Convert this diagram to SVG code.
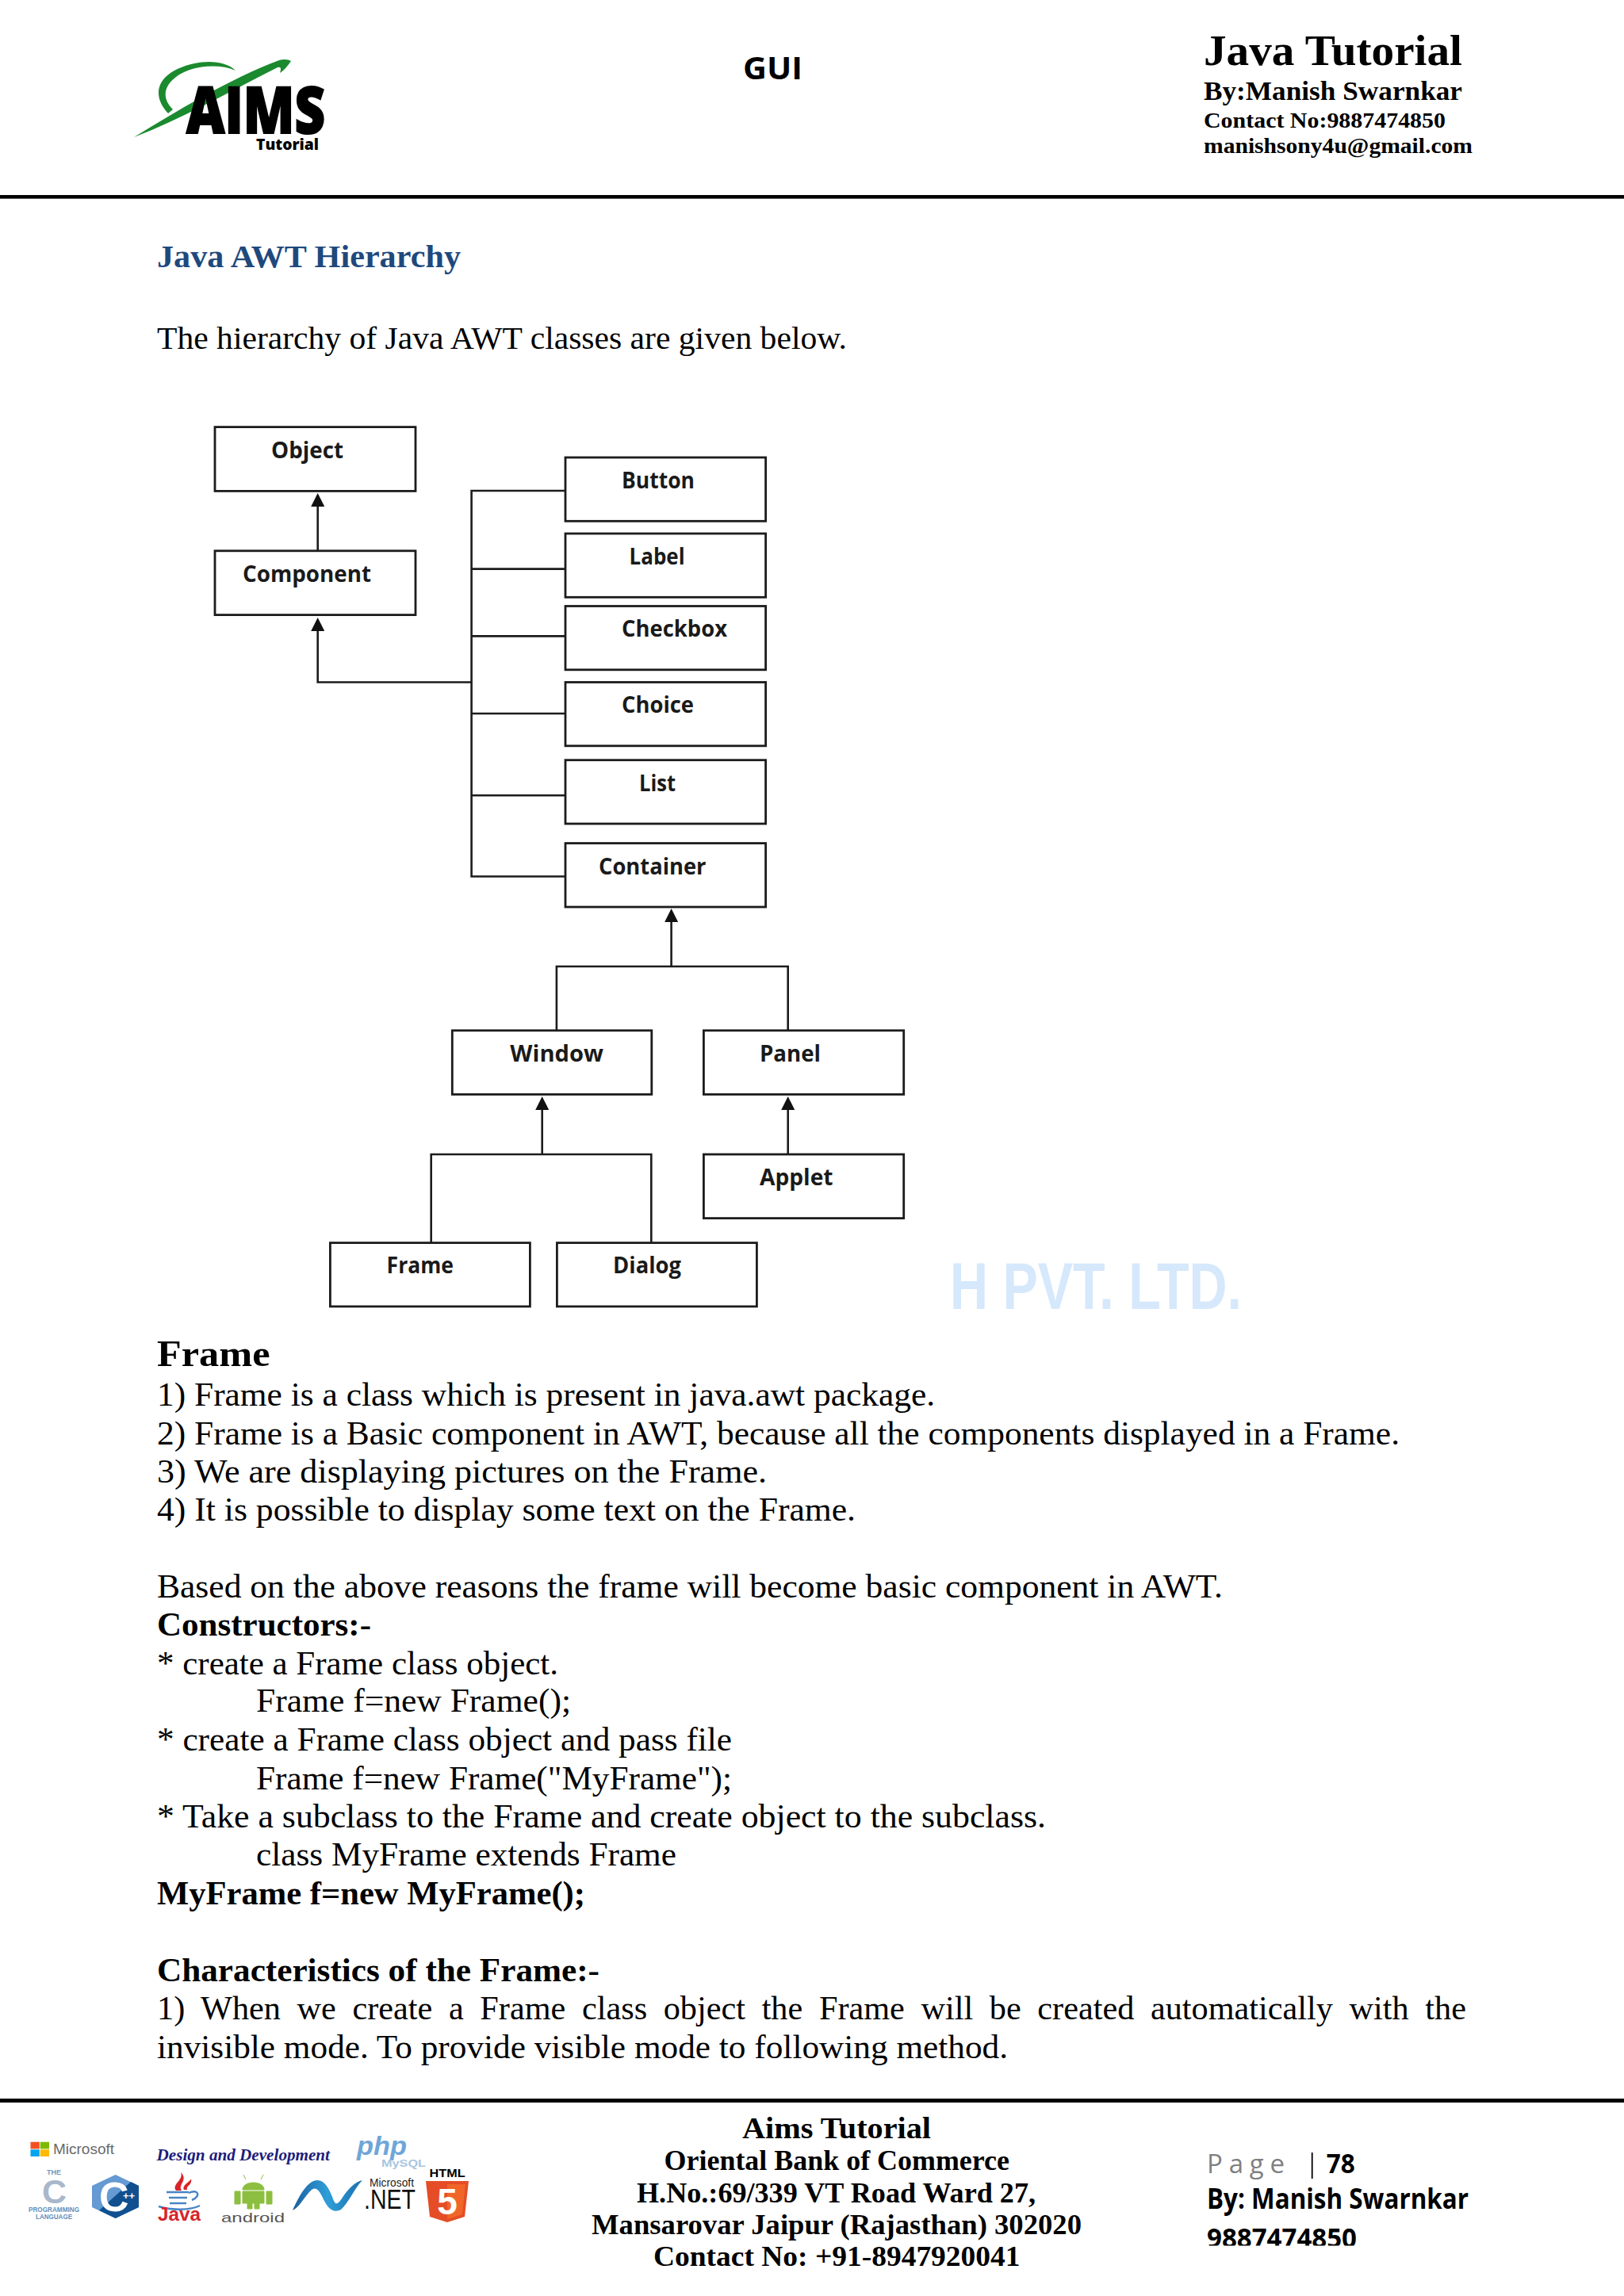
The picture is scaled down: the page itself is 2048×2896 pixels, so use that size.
<svg xmlns="http://www.w3.org/2000/svg" width="2048" height="2896" viewBox="0 0 2048 2896">
<style>
text{font-family:"Liberation Serif","DejaVu Serif",serif;fill:#000}
.b{font-weight:700}
.body{font-size:42px}
.sec{font-size:46px;font-weight:700}
.foot{font-size:36px;font-weight:700}
.hd{font-weight:700}
.os{font-family:"Open Sans","Liberation Sans",sans-serif}
.sans{font-family:"Liberation Sans",sans-serif}
.lbl{font-family:"Open Sans","Liberation Sans",sans-serif;font-weight:700;font-size:29px;fill:#1a1a1a}
.box{fill:#fff;stroke:#1c1c1c;stroke-width:2.8}
.cn{fill:none;stroke:#1c1c1c;stroke-width:2.6}
.ah{marker-end:url(#arrow)}
</style>
<defs>
<marker id="arrow" markerUnits="userSpaceOnUse" markerWidth="18" markerHeight="17" viewBox="0 0 18 17" refX="2" refY="8.5" orient="auto"><path d="M0,0L17,8.500L0,17z" fill="#111"/></marker>
<linearGradient id="net" x1="0" y1="0" x2="1" y2="0"><stop offset="0" stop-color="#1b5f9f"/><stop offset=".5" stop-color="#2f9ed8"/><stop offset="1" stop-color="#1a70b0"/></linearGradient>
<clipPath id="pclip"><rect x="1500" y="2790" width="300" height="42.5"/></clipPath>
</defs>
<rect width="2048" height="2896" fill="#fff"/>

<g id="header">
<g id="logo">
<path d="M169,173C230,135 300,95 352,76C358,74 364,75 367,77C363,83 358,89 353,92C355,86 354,84 350,85C290,115 230,150 169,173Z" fill="#1b8a2e"/>
<path d="M212,143C195,125 196,105 215,92C240,76 280,72 297,89C275,79 240,83 222,97C205,110 205,125 218,138Z" fill="#1b8a2e"/>
<text class="os" x="235" y="168" font-size="81" font-weight="800" stroke="#000" stroke-width="2" textLength="175" lengthAdjust="spacingAndGlyphs">AIMS</text>
<text class="os" x="323" y="189" font-size="20" font-weight="800" textLength="79" lengthAdjust="spacingAndGlyphs">Tutorial</text>
</g>
<text class="os b" x="937" y="100" font-size="40" textLength="75" lengthAdjust="spacingAndGlyphs">GUI</text>
<text class="hd" x="1518" y="82" font-size="55" textLength="326" lengthAdjust="spacingAndGlyphs">Java Tutorial</text>
<text class="hd" x="1518" y="126" font-size="33" textLength="326" lengthAdjust="spacingAndGlyphs">By:Manish Swarnkar</text>
<text class="hd" x="1518" y="161" font-size="27" textLength="305" lengthAdjust="spacingAndGlyphs">Contact No:9887474850</text>
<text class="hd" x="1518" y="193" font-size="27" textLength="339" lengthAdjust="spacingAndGlyphs">manishsony4u@gmail.com</text>
<rect x="0" y="246" width="2048" height="4.6" fill="#000"/>
</g>

<text x="198" y="337" font-size="41" font-weight="700" style="fill:#1f497d" textLength="383" lengthAdjust="spacingAndGlyphs">Java AWT Hierarchy</text>
<text x="198" y="440" font-size="41" textLength="870" lengthAdjust="spacingAndGlyphs">The hierarchy of Java AWT classes are given below.</text>

<g id="connectors">
<path class="cn ah" d="M400.7,694.8V637"/>
<path class="cn ah" d="M594.6,860.5H400.7V794"/>
<path class="cn" d="M712.4,619H594.6V1105.5H712.4M594.6,717.6H712.4M594.6,802.4H712.4M594.6,900H712.4M594.6,1003.3H712.4"/>
<path class="cn ah" d="M846.6,1219V1161"/>
<path class="cn" d="M701.9,1299.8V1219H993.7V1299.8"/>
<path class="cn ah" d="M683.7,1456V1398"/>
<path class="cn" d="M543.7,1567.6V1456H821.3V1567.6"/>
<path class="cn ah" d="M993.7,1456V1398"/>
</g>

<g id="node-object"><rect class="box" x="271" y="538.6" width="253" height="80.8"/><text class="lbl" x="342" y="578" textLength="91" lengthAdjust="spacingAndGlyphs">Object</text></g>
<g id="node-component"><rect class="box" x="271" y="694.8" width="253" height="80.8"/><text class="lbl" x="306" y="734" textLength="162" lengthAdjust="spacingAndGlyphs">Component</text></g>
<g id="node-button"><rect class="box" x="713" y="577" width="252.6" height="80.3"/><text class="lbl" x="784" y="616" textLength="92" lengthAdjust="spacingAndGlyphs">Button</text></g>
<g id="node-label"><rect class="box" x="713" y="673" width="252.6" height="80.3"/><text class="lbl" x="793.6" y="712" textLength="70" lengthAdjust="spacingAndGlyphs">Label</text></g>
<g id="node-checkbox"><rect class="box" x="713" y="764.5" width="252.6" height="80.3"/><text class="lbl" x="784" y="803" textLength="133" lengthAdjust="spacingAndGlyphs">Checkbox</text></g>
<g id="node-choice"><rect class="box" x="713" y="860.5" width="252.6" height="80.3"/><text class="lbl" x="784" y="899" textLength="91" lengthAdjust="spacingAndGlyphs">Choice</text></g>
<g id="node-list"><rect class="box" x="713" y="958.7" width="252.6" height="80.3"/><text class="lbl" x="806" y="997.5" textLength="46" lengthAdjust="spacingAndGlyphs">List</text></g>
<g id="node-container"><rect class="box" x="713" y="1063.6" width="252.6" height="80.4"/><text class="lbl" x="755" y="1102.5" textLength="135.500" lengthAdjust="spacingAndGlyphs">Container</text></g>
<g id="node-window"><rect class="box" x="570.3" y="1299.8" width="251.500" height="80.6"/><text class="lbl" x="643.300" y="1338.600" textLength="117.700" lengthAdjust="spacingAndGlyphs">Window</text></g>
<g id="node-panel"><rect class="box" x="887.4" y="1299.8" width="252.300" height="80.6"/><text class="lbl" x="958" y="1338.600" textLength="77" lengthAdjust="spacingAndGlyphs">Panel</text></g>
<g id="node-applet"><rect class="box" x="887.4" y="1456" width="252.300" height="80.6"/><text class="lbl" x="958" y="1495" textLength="92.600" lengthAdjust="spacingAndGlyphs">Applet</text></g>
<g id="node-frame"><rect class="box" x="416.4" y="1567.6" width="252" height="80.3"/><text class="lbl" x="487.600" y="1606" textLength="84.400" lengthAdjust="spacingAndGlyphs">Frame</text></g>
<g id="node-dialog"><rect class="box" x="702.4" y="1567.6" width="252" height="80.3"/><text class="lbl" x="773" y="1606" textLength="86" lengthAdjust="spacingAndGlyphs">Dialog</text></g>

<text class="sans" x="1198" y="1651" font-size="84" font-weight="700" style="fill:#d6e8fb" textLength="368" lengthAdjust="spacingAndGlyphs">H PVT. LTD.</text>

<g id="body">
<text class="sec" x="198" y="1723" textLength="142.500" lengthAdjust="spacingAndGlyphs">Frame</text>
<text class="body" x="198" y="1773.300" textLength="981" lengthAdjust="spacingAndGlyphs">1) Frame is a class which is present in java.awt package.</text>
<text class="body" x="198" y="1821.700" textLength="1567" lengthAdjust="spacingAndGlyphs">2) Frame is a Basic component in AWT, because all the components displayed in a Frame.</text>
<text class="body" x="198" y="1870" textLength="769" lengthAdjust="spacingAndGlyphs">3) We are displaying pictures on the Frame.</text>
<text class="body" x="198" y="1918.300" textLength="881" lengthAdjust="spacingAndGlyphs">4) It is possible to display some text on the Frame.</text>
<text class="body" x="198" y="2015" textLength="1344" lengthAdjust="spacingAndGlyphs">Based on the above reasons the frame will become basic component in AWT.</text>
<text class="body b" x="198" y="2063.300" textLength="270" lengthAdjust="spacingAndGlyphs">Constructors:-</text>
<text class="body" x="198" y="2111.700" textLength="506" lengthAdjust="spacingAndGlyphs">* create a Frame class object.</text>
<text class="body" x="323" y="2159.300" textLength="397" lengthAdjust="spacingAndGlyphs">Frame f=new Frame();</text>
<text class="body" x="198" y="2208.300" textLength="725" lengthAdjust="spacingAndGlyphs">* create a Frame class object and pass file</text>
<text class="body" x="323" y="2256.700" textLength="600" lengthAdjust="spacingAndGlyphs">Frame f=new Frame("MyFrame");</text>
<text class="body" x="198" y="2305" textLength="1121" lengthAdjust="spacingAndGlyphs">* Take a subclass to the Frame and create object to the subclass.</text>
<text class="body" x="323" y="2353.300" textLength="530" lengthAdjust="spacingAndGlyphs">class MyFrame extends Frame</text>
<text class="body b" x="198" y="2401.700" textLength="540" lengthAdjust="spacingAndGlyphs">MyFrame f=new MyFrame();</text>
<text class="body b" x="198" y="2499" textLength="558" lengthAdjust="spacingAndGlyphs">Characteristics of the Frame:-</text>
<text class="body" x="198" y="2547.300" word-spacing="10" textLength="1651" lengthAdjust="spacingAndGlyphs">1) When we create a Frame class object the Frame will be created automatically with the</text>
<text class="body" x="198" y="2595.700" textLength="1073" lengthAdjust="spacingAndGlyphs">invisible mode. To provide visible mode to following method.</text>
</g>

<g id="footer">
<rect x="0" y="2647" width="2048" height="5" fill="#000"/>
<g id="logos">
<rect x="38.500" y="2701.700" width="11.300" height="8.700" fill="#f25022"/><rect x="50.700" y="2701.700" width="11.300" height="8.700" fill="#7fba00"/><rect x="38.500" y="2711.300" width="11.300" height="8.700" fill="#00a4ef"/><rect x="50.700" y="2711.300" width="11.300" height="8.700" fill="#ffb900"/>
<text class="sans" x="67" y="2716.700" font-size="18" style="fill:#6a6a6a" textLength="77" lengthAdjust="spacingAndGlyphs">Microsoft</text>
<text x="197.500" y="2725" font-size="20" font-weight="700" font-style="italic" style="fill:#1d1d7a" textLength="218.500" lengthAdjust="spacingAndGlyphs">Design and Development</text>
<text class="sans" x="450" y="2718" font-size="33" font-weight="700" font-style="italic" style="fill:#6fa6d8" textLength="63" lengthAdjust="spacingAndGlyphs">php</text>
<text class="sans" x="481" y="2733" font-size="13" font-weight="700" style="fill:#a9c6e0" textLength="56" lengthAdjust="spacingAndGlyphs">MySQL</text>
<text class="sans" x="59" y="2743" font-size="9" font-weight="700" style="fill:#6d97c0" textLength="18" lengthAdjust="spacingAndGlyphs">THE</text>
<text class="sans" x="53" y="2779" font-size="42" font-weight="700" style="fill:#a9b8cb" textLength="31" lengthAdjust="spacingAndGlyphs">C</text>
<text class="sans" x="36" y="2790" font-size="9" font-weight="700" style="fill:#5f8fbd" textLength="64" lengthAdjust="spacingAndGlyphs">PROGRAMMING</text>
<text class="sans" x="45" y="2799" font-size="9" font-weight="700" style="fill:#5f8fbd" textLength="46" lengthAdjust="spacingAndGlyphs">LANGUAGE</text>
<path d="M145.600,2743L175,2757V2784L145.600,2798L116,2784V2757Z" fill="#659ad2"/>
<path d="M175,2757V2784L145.600,2798L125,2788L165,2752Z" fill="#10508f"/>
<text class="sans" x="125" y="2789" font-size="52" font-weight="700" style="fill:#fff">C</text>
<text class="sans" x="155" y="2774" font-size="13" font-weight="700" style="fill:#fff">++</text>
<path d="M222,2763C216,2755 232,2750 228,2740C238,2750 224,2755 229,2763ZM232,2762C229,2756 240,2752 241,2748C243,2756 234,2757 236,2762Z" fill="#d8232a"/>
<path d="M210,2765H238M213,2772H236M214,2779H235M200,2783C215,2788 240,2788 252,2782M238,2766C250,2760 254,2770 242,2775" fill="none" stroke="#4a84c4" stroke-width="2.500"/>
<text class="sans" x="199" y="2801" font-size="24" font-weight="700" style="fill:#d8232a" textLength="54" lengthAdjust="spacingAndGlyphs">Java</text>
<path d="M306,2762C306,2750 333,2750 333,2762ZM306,2764H333V2779H327V2786H321V2779H318V2786H312V2779H306ZM296,2764H303V2780H296ZM336,2764H343V2780H336ZM310,2749L307,2743M329,2749L332,2743" fill="#8cbf3f" stroke="#8cbf3f" stroke-width="1"/>
<text class="sans" x="279" y="2803" font-size="17" style="fill:#555" textLength="80" lengthAdjust="spacingAndGlyphs">android</text>
<path d="M369,2788C377,2770 388,2750 400,2750C410,2750 416,2762 421,2776C424,2783 428,2778 433,2770C440,2760 448,2752 457,2750C447,2760 440,2778 430,2787C420,2792 413,2786 406,2770C402,2762 398,2758 393,2762C384,2770 378,2784 369,2788Z" fill="url(#net)"/>
<text class="sans" x="466" y="2758" font-size="14" style="fill:#222" textLength="56" lengthAdjust="spacingAndGlyphs">Microsoft</text>
<text class="sans" x="459" y="2786" font-size="35" style="fill:#111" textLength="65" lengthAdjust="spacingAndGlyphs">.NET</text>
<text class="sans" x="541.600" y="2746" font-size="14" font-weight="700" textLength="45" lengthAdjust="spacingAndGlyphs">HTML</text>
<path d="M537,2751H591L586,2796L564,2803L542,2796Z" fill="#e44d26"/>
<path d="M564,2755H587L583,2793L564,2799Z" fill="#f16529"/>
<text class="sans" x="564" y="2793" font-size="46" font-weight="700" text-anchor="middle" style="fill:#fff">5</text>
</g>
<text class="hd" x="936" y="2696.700" font-size="38" textLength="238" lengthAdjust="spacingAndGlyphs">Aims Tutorial</text>
<text class="foot" x="837.600" y="2737" textLength="435.400" lengthAdjust="spacingAndGlyphs">Oriental Bank of Commerce</text>
<text class="foot" x="803" y="2777.500" textLength="503" lengthAdjust="spacingAndGlyphs">H.No.:69/339 VT Road Ward 27,</text>
<text class="foot" x="746" y="2818" textLength="618" lengthAdjust="spacingAndGlyphs">Mansarovar Jaipur (Rajasthan) 302020</text>
<text class="foot" x="824" y="2857.700" textLength="462.500" lengthAdjust="spacingAndGlyphs">Contact No: +91-8947920041</text>
<text class="os" x="1522" y="2740.700" font-size="33" letter-spacing="8" style="fill:#808080" textLength="106" lengthAdjust="spacing">Page</text>
<rect x="1653.800" y="2715" width="1.800" height="33" fill="#000"/>
<text class="os b" x="1672.700" y="2740.700" font-size="34" textLength="36" lengthAdjust="spacingAndGlyphs">78</text>
<text class="os b" x="1522" y="2786" font-size="35" textLength="330" lengthAdjust="spacingAndGlyphs">By: Manish Swarnkar</text>
<text class="os b" x="1522" y="2835" font-size="34" textLength="189" lengthAdjust="spacingAndGlyphs" clip-path="url(#pclip)">9887474850</text>
</g>
</svg>
